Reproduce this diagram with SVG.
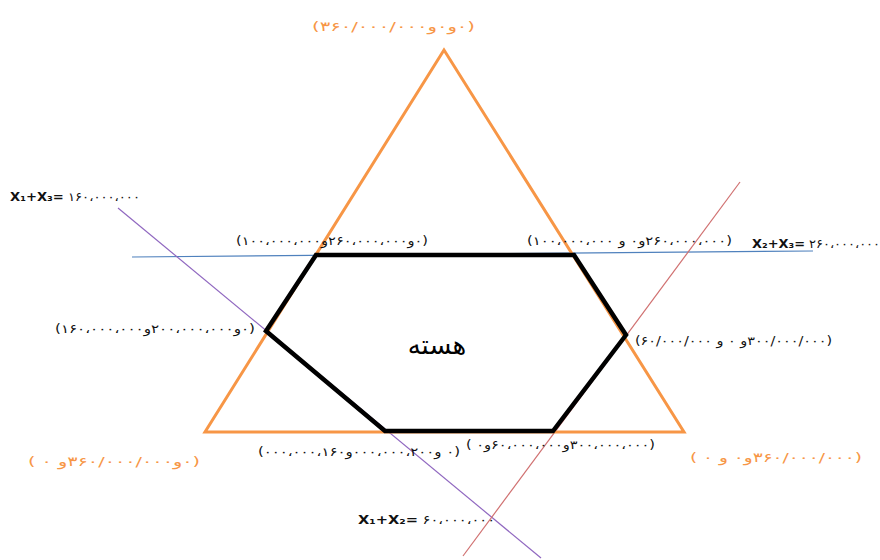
<svg xmlns="http://www.w3.org/2000/svg" width="880" height="560" viewBox="0 0 880 560">
<style>
text{font-family:"DejaVu Sans",sans-serif;direction:ltr;unicode-bidi:bidi-override}
.lbl{font-size:12px;fill:#111}
.or{font-size:13px;fill:#f79646}
.eq{font-size:12px;fill:#111}
.eq tspan.b{font-weight:bold}
.tri{fill:none;stroke:#f79646;stroke-width:3}
.hex{fill:none;stroke:#000;stroke-width:4.5;stroke-linejoin:miter}
.ln{fill:none;stroke-width:1.2}
</style>
<rect width="880" height="560" fill="#fff"/>
<g id="connectors">
<line class="ln" x1="132" y1="257" x2="813" y2="251" stroke="#4f81bd"/>
<line class="ln" x1="118" y1="208" x2="541" y2="558" stroke="#9068c0"/>
<line class="ln" x1="740" y1="182" x2="463" y2="556" stroke="#d07070"/>
</g>
<g id="triangle">
<polygon class="tri" points="444,50 205,432 684,432"/>
</g>
<g id="core">
<polygon class="hex" points="316,255 574,255 626,335 553,431 385,431 266,331"/>
<text x="437" y="354" font-size="26" text-anchor="middle" style="direction:rtl;unicode-bidi:normal">هسته</text>
</g>
<g id="labels">
<text class="or" x="312" y="31" textLength="163" lengthAdjust="spacingAndGlyphs">(۳۶۰/۰۰۰/۰۰۰و۰و۰)</text>
<text class="eq" x="10" y="201" textLength="130" lengthAdjust="spacingAndGlyphs"><tspan class="b">X₁+X₃=</tspan> ۱۶۰،۰۰۰،۰۰۰</text>
<text class="lbl" x="236" y="245" textLength="192" lengthAdjust="spacingAndGlyphs">(۱۰۰،۰۰۰،۰۰۰و۲۶۰،۰۰۰،۰۰۰و۰)</text>
<text class="lbl" x="527" y="245" textLength="205" lengthAdjust="spacingAndGlyphs">(۱۰۰،۰۰۰،۰۰۰ و ۰و۲۶۰،۰۰۰،۰۰۰)</text>
<text class="eq" x="752" y="248" textLength="128" lengthAdjust="spacingAndGlyphs"><tspan class="b">X₂+X₃=</tspan> ۲۶۰،۰۰۰،۰۰۰</text>
<text class="lbl" x="55" y="333" textLength="200" lengthAdjust="spacingAndGlyphs">(۱۶۰،۰۰۰،۰۰۰و۲۰۰،۰۰۰،۰۰۰و۰)</text>
<text class="lbl" x="635" y="345" textLength="197" lengthAdjust="spacingAndGlyphs">(۶۰/۰۰۰/۰۰۰ و ۰ و۳۰۰/۰۰۰/۰۰۰)</text>
<text class="or" x="28" y="466" textLength="172" lengthAdjust="spacingAndGlyphs">( ۰ و۳۶۰/۰۰۰/۰۰۰و۰)</text>
<text class="lbl" x="258" y="456" textLength="202" lengthAdjust="spacingAndGlyphs">(۰۰۰،۰۰۰،۱۶۰و۰۰۰،۰۰۰،۲۰۰و ۰)</text>
<text class="lbl" x="466" y="449" textLength="189" lengthAdjust="spacingAndGlyphs">( ۰و۶۰،۰۰۰،۰۰۰و۳۰۰،۰۰۰،۰۰۰)</text>
<text class="or" x="690" y="462" textLength="172" lengthAdjust="spacingAndGlyphs">( ۰ و ۰و۳۶۰/۰۰۰/۰۰۰)</text>
<text class="eq" x="358" y="524" textLength="137" lengthAdjust="spacingAndGlyphs"><tspan class="b">X₁+X₂=</tspan> ۶۰،۰۰۰،۰۰۰</text>
</g>
</svg>
